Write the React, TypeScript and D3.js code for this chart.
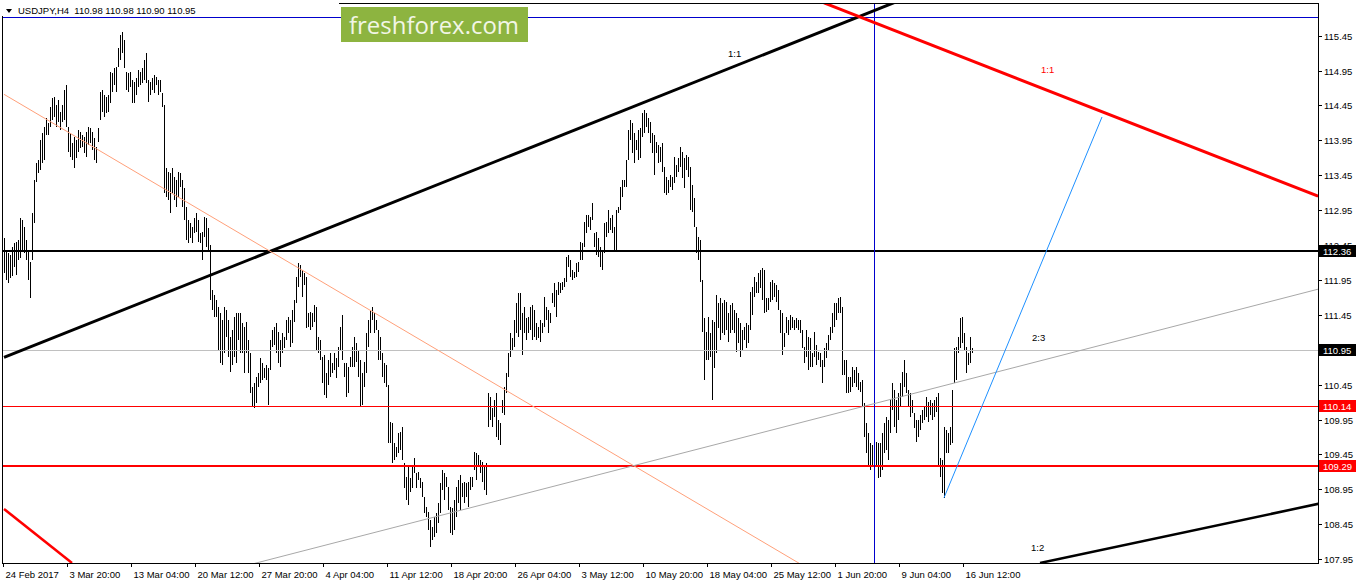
import React from "react";
import * as d3 from "d3";

// USDJPY H4 bars, 24 Feb 2017 .. 16 Jun 2017 (one entry per bar)
const highs = [
  112.55,112.38,112.34,112.31,112.42,112.48,112.49,112.52,112.84,112.81,
  112.71,112.52,112.38,112.21,112.91,113.38,113.63,113.67,113.95,114.06,
  114.14,114.27,114.20,114.43,114.56,114.57,114.46,114.53,114.36,114.46,
  114.67,114.74,114.14,114.06,113.91,114.00,113.95,114.10,114.07,114.03,
  114.00,114.07,114.14,114.13,114.07,113.98,113.85,114.13,114.64,114.67,
  114.60,114.57,114.60,114.93,114.92,114.99,115.00,115.27,115.46,115.50,
  115.39,114.93,114.92,114.93,114.81,114.79,114.84,114.96,114.93,114.99,
  115.10,115.20,114.81,114.79,114.84,114.89,114.86,114.81,114.81,114.63,
  114.46,113.55,113.50,113.48,113.55,113.43,113.38,113.50,113.48,113.38,
  113.27,112.99,112.81,112.77,112.71,112.84,112.91,112.81,112.62,112.64,
  112.85,112.84,112.69,112.45,111.81,111.74,111.66,111.56,111.48,111.38,
  111.56,111.52,111.38,111.13,111.23,111.42,111.48,111.48,111.48,111.33,
  111.28,111.35,111.09,110.90,110.42,110.47,110.56,110.62,110.83,110.76,
  110.69,110.73,110.69,111.09,111.23,111.28,111.33,111.20,111.09,111.19,
  111.13,111.38,111.42,111.38,111.52,111.66,111.99,112.19,112.16,112.09,
  112.05,111.99,111.48,111.49,111.48,111.59,111.56,111.13,111.09,110.85,
  110.87,110.62,110.80,110.90,110.76,110.90,110.83,110.99,111.28,111.45,
  110.76,110.76,110.70,110.85,110.99,111.13,111.05,110.95,110.80,110.62,
  110.77,111.19,111.38,111.52,111.56,111.48,111.38,111.23,111.13,110.90,
  110.76,110.73,110.45,109.91,109.90,109.61,109.56,109.76,109.77,109.84,
  109.33,109.13,109.27,109.11,109.30,109.40,109.18,109.20,109.11,109.05,
  108.84,108.70,108.63,108.51,108.41,108.55,108.61,108.75,109.04,109.23,
  109.18,109.13,108.98,108.70,108.68,108.80,108.98,109.08,109.16,109.04,
  109.05,109.04,109.05,109.13,109.13,109.49,109.47,109.44,109.37,109.34,
  109.27,109.33,110.33,110.27,110.12,110.23,110.33,109.94,109.90,110.23,
  110.42,110.62,110.90,111.19,111.12,111.38,111.62,111.76,111.76,111.48,
  111.56,111.41,111.42,111.56,111.59,111.52,111.33,111.28,111.38,111.33,
  111.71,111.56,111.52,111.48,111.76,111.91,111.81,111.92,111.91,111.92,
  111.98,112.28,112.31,112.24,112.09,112.06,112.19,112.21,112.49,112.48,
  112.78,112.88,112.88,112.85,113.05,112.62,112.64,112.55,112.42,112.38,
  112.77,112.78,112.95,112.84,112.88,112.71,112.95,112.99,113.28,113.38,
  113.38,113.67,114.10,114.24,114.20,114.06,113.95,114.10,114.13,114.34,
  114.39,114.34,114.27,114.21,114.06,114.03,113.93,113.88,113.85,113.91,
  113.57,113.43,113.38,113.45,113.43,113.71,113.60,113.70,113.85,113.78,
  113.70,113.74,113.71,113.57,113.31,113.12,112.71,112.57,112.52,111.95,
  111.41,111.20,111.42,111.19,111.38,111.35,111.74,111.62,111.69,111.62,
  111.66,111.63,111.48,111.59,111.62,111.52,111.48,111.41,111.33,111.23,
  111.28,111.33,111.30,111.78,111.85,111.99,111.92,112.05,112.09,112.12,
  112.09,111.69,111.69,111.92,111.95,111.91,111.88,111.81,111.52,111.48,
  111.19,111.42,111.38,111.45,111.42,111.38,111.41,111.38,111.38,111.23,
  110.99,111.23,111.13,111.12,110.90,111.20,111.02,110.92,110.90,110.80,
  110.98,111.05,111.16,111.28,111.48,111.62,111.62,111.69,111.71,111.56,
  110.80,110.80,110.56,110.56,110.70,110.66,110.70,110.62,110.49,110.52,
  110.19,109.90,109.76,109.61,109.59,109.56,109.63,109.61,109.61,109.76,
  109.90,109.99,109.94,110.23,110.47,110.37,110.23,110.33,110.47,110.63,
  110.80,110.62,110.37,110.33,110.23,110.04,109.94,109.94,110.01,110.09,
  110.13,110.27,110.20,110.23,110.19,110.23,110.27,110.33,109.40,109.37,
  109.84,109.80,109.76,109.84,110.37,110.98,110.99,111.13,111.41,111.42,
  111.19,110.99,110.90,111.13,110.98,
];

const lows = [
  112.05,111.95,111.91,111.98,112.00,112.14,112.02,112.24,112.27,112.38,
  112.34,112.24,111.95,111.69,112.24,112.77,113.35,113.48,113.53,113.63,
  113.67,114.03,114.03,114.14,114.24,114.28,114.14,114.21,114.10,114.21,
  114.24,114.14,113.78,113.71,113.67,113.55,113.70,113.78,113.84,113.85,
  113.77,113.71,113.88,113.91,113.81,113.67,113.63,113.93,114.24,114.36,
  114.28,114.34,114.36,114.49,114.64,114.74,114.64,115.00,115.10,115.20,
  114.99,114.67,114.64,114.71,114.49,114.49,114.60,114.71,114.74,114.77,
  114.81,114.77,114.50,114.60,114.67,114.63,114.74,114.60,114.64,114.43,
  113.20,113.14,113.10,112.91,113.20,113.10,112.99,113.14,113.28,112.99,
  112.81,112.52,112.48,112.55,112.48,112.62,112.64,112.49,112.48,112.24,
  112.57,112.42,112.38,111.66,111.52,111.42,111.42,110.95,110.76,110.73,
  110.90,111.13,110.85,110.63,110.73,110.85,110.76,111.09,110.90,110.90,
  110.62,110.90,110.62,110.33,110.13,110.12,110.19,110.42,110.47,110.52,
  110.55,110.52,110.16,110.66,110.99,111.02,110.90,110.76,110.70,110.90,
  110.98,111.09,111.19,110.99,111.05,111.35,111.62,111.85,111.99,111.70,
  111.88,111.26,111.28,111.23,111.28,111.35,110.95,110.90,110.80,110.47,
  110.30,110.26,110.45,110.56,110.62,110.66,110.55,110.70,110.95,110.80,
  110.56,110.27,110.33,110.70,110.70,110.70,110.77,110.56,110.13,110.16,
  110.42,110.62,110.99,111.19,111.38,111.19,111.23,110.80,110.80,110.56,
  110.47,110.42,109.61,109.61,109.33,109.37,109.41,109.47,109.51,109.37,
  108.97,108.80,108.73,108.91,108.97,109.18,108.97,109.08,108.97,108.84,
  108.61,108.55,108.37,108.12,108.22,108.27,108.32,108.47,108.61,108.94,
  108.80,108.98,108.65,108.32,108.30,108.37,108.55,108.75,108.65,108.84,
  108.75,108.84,108.70,108.94,108.98,109.23,109.08,109.27,109.18,109.05,
  108.94,108.87,109.84,109.94,109.84,109.99,109.70,109.66,109.59,110.04,
  110.01,110.33,110.56,110.85,110.95,110.99,111.19,111.13,111.23,110.87,
  111.19,111.09,111.19,111.23,111.09,111.13,111.09,111.12,111.06,111.19,
  111.28,111.38,111.19,111.33,111.62,111.56,111.42,111.74,111.76,111.81,
  111.85,111.92,112.14,111.99,111.95,111.98,111.99,112.06,112.24,112.24,
  112.42,112.62,112.71,112.67,112.81,112.42,112.31,112.28,112.14,112.09,
  112.34,112.57,112.62,112.67,112.62,112.38,112.38,112.91,112.95,113.14,
  113.28,113.28,113.67,113.95,113.77,113.63,113.81,113.67,113.70,114.00,
  114.06,114.14,114.06,113.91,113.77,113.45,113.77,113.63,113.64,113.50,
  113.20,113.17,113.20,113.28,113.24,113.34,113.43,113.50,113.57,113.41,
  113.27,113.53,113.43,112.95,112.92,112.71,112.34,112.24,111.92,111.21,
  110.52,110.80,110.80,110.85,110.23,110.69,110.90,111.26,111.09,111.19,
  111.16,111.23,111.06,111.19,111.23,111.19,110.92,111.05,110.85,110.95,
  111.09,110.98,111.05,111.23,111.45,111.71,111.76,111.76,111.84,111.66,
  111.48,111.49,111.52,111.63,111.66,111.71,111.63,111.52,111.19,110.87,
  110.99,111.19,111.16,111.23,111.26,111.23,111.26,111.23,111.19,110.98,
  110.76,110.85,110.66,110.70,110.70,110.85,110.73,110.80,110.70,110.47,
  110.70,110.83,110.95,111.09,111.19,111.28,111.38,111.48,111.48,110.59,
  110.59,110.33,110.33,110.35,110.42,110.47,110.42,110.37,110.35,110.13,
  109.70,109.47,109.28,109.23,109.28,109.23,109.28,109.11,109.13,109.23,
  109.47,109.51,109.37,109.76,110.09,109.84,109.76,109.94,110.13,110.27,
  110.42,110.33,110.13,109.99,110.04,109.83,109.63,109.70,109.80,109.90,
  109.94,109.99,109.91,110.01,109.94,109.99,110.06,109.27,109.13,108.90,
  108.83,109.47,109.47,109.59,109.61,110.47,110.52,110.90,110.98,111.05,
  110.95,110.62,110.73,110.76,110.90,
];

const xTickLabels = [
  "24 Feb 2017", "3 Mar 20:00", "13 Mar 04:00", "20 Mar 12:00", "27 Mar 20:00",
  "4 Apr 04:00", "11 Apr 12:00", "18 Apr 20:00", "26 Apr 04:00", "3 May 12:00",
  "10 May 20:00", "18 May 04:00", "25 May 12:00", "1 Jun 20:00", "9 Jun 04:00",
  "16 Jun 12:00",
];
const barsPerLabel = 32;

const yTicks = [115.45, 114.95, 114.45, 113.95, 113.45, 112.95, 112.45, 111.95,
  111.45, 110.95, 110.45, 109.95, 109.45, 108.95, 108.45, 107.95];

// horizontal levels [price, colour, width, label box colour]
const levels: [number, string, number, string | null][] = [
  [112.36, "#000000", 2, "#000000"],
  [110.95, "#c0c0c0", 1, "#000000"],
  [110.14, "#ff0000", 1, "#ff0000"],
  [109.29, "#ff0000", 2, "#ff0000"],
  [115.72, "#0000cd", 1, null],
];

// trend lines: [[bar, price], [bar, price]], colour, width
const trendLines: [[number, number][], string, number][] = [
  [[[0, 110.84], [450, 115.98]], "#000000", 3],
  [[[410, 115.92], [657, 113.15]], "#ff0000", 3],
  [[[0, 108.67], [34, 107.895]], "#ff0000", 2.5],
  [[[0, 114.61], [400, 107.85]], "#ffa07a", 1],
  [[[120, 107.85], [660, 111.84]], "#a8a8a8", 1],
  [[[470, 108.83], [549, 114.285]], "#1e90ff", 1],
  [[[518, 107.895], [660, 108.76]], "#000000", 2.5],
];

const vLineBar = 435;

// ratio labels [bar, price, text, colour]
const ratioLabels: [number, number, string, string][] = [
  [362, 115.14, "1:1", "#000000"],
  [518.5, 114.91, "1:1", "#ff0000"],
  [514, 111.08, "2:3", "#000000"],
  [513.5, 108.07, "1:2", "#000000"],
];

const W = 1358;
const H = 584;
const plotLeft = 3;
const plotRight = 1318;
const plotTop = 4;
const plotBottom = 563;
const font = "'Liberation Sans', Arial, sans-serif";

export default function App() {
  const x = d3.scaleLinear().domain([0, 657]).range([4, plotRight]);
  const y = d3.scaleLinear().domain([115.904, 107.895]).range([plotTop, plotBottom]);

  const barPath = highs
    .map((h, i) => {
      const bx = Math.round(x(i)) + 0.5;
      const y1 = Math.round(y(h));
      let y2 = Math.round(y(lows[i]));
      if (y2 <= y1) y2 = y1 + 1;
      return `M${bx},${y1}V${y2}`;
    })
    .join("");

  const line = d3
    .line<[number, number]>()
    .x((d) => x(d[0]))
    .y((d) => y(d[1]));

  const vx = Math.round(x(vLineBar)) + 0.5;

  return (
    <div style={{ position: "absolute", left: 0, top: 0 }}>
      <svg width={W} height={H} style={{ display: "block", background: "#fff" }}>
        <defs>
          <clipPath id="plot">
            <rect x={plotLeft} y={plotTop} width={plotRight - plotLeft} height={plotBottom - plotTop} />
          </clipPath>
        </defs>
        <rect x={0} y={0} width={W} height={H} fill="#fff" />

        <g clipPath="url(#plot)">
          <path d={barPath} stroke="#000" strokeWidth={1} fill="none" shapeRendering="crispEdges" />

          {levels.map(([p, c, w], i) => {
            const ly = w === 2 ? Math.round(y(p)) : Math.round(y(p)) + 0.5;
            return (
              <line key={"lv" + i} x1={plotLeft} x2={plotRight} y1={ly} y2={ly}
                stroke={c} strokeWidth={w} shapeRendering="crispEdges" />
            );
          })}

          <line x1={vx} x2={vx} y1={plotTop} y2={plotBottom} stroke="#0000cd" strokeWidth={1}
            shapeRendering="crispEdges" />

          {trendLines.map(([pts, c, w], i) => (
            <path key={"tl" + i} d={line(pts) || ""} stroke={c} strokeWidth={w} fill="none" />
          ))}

          {ratioLabels.map(([b, p, t, c], i) => (
            <text key={"rl" + i} x={x(b)} y={y(p)} fontFamily={font} fontSize={9.5} fill={c}>
              {t}
            </text>
          ))}
        </g>

        {/* frame */}
        <path
          d={`M${plotLeft - 0.5},${plotTop - 0.5}H${plotRight + 0.5}V${plotBottom + 0.5}H${plotLeft - 0.5}Z`}
          fill="none" stroke="#000" strokeWidth={1} shapeRendering="crispEdges"
        />

        {/* title */}
        <rect x={0} y={0} width={339} height={16} fill="#fff" />
        <path d="M6,9 L12,9 L9,13 Z" fill="#000" />
        <text x={18} y={14} fontFamily={font} fontSize={9.5} fill="#000" style={{ whiteSpace: "pre" }}>
          {"USDJPY,H4  110.98 110.98 110.90 110.95"}
        </text>

        {/* logo */}
        <rect x={341} y={7} width={187} height={35} fill="#8db440" />
        <text x={349} y={34} fontFamily="'Open Sans', 'Noto Sans', sans-serif" fontSize={24}
          fill="#f2f6e6" textLength={170} lengthAdjust="spacingAndGlyphs">
          freshforex.com
        </text>

        {/* right axis */}
        {yTicks.map((t) => {
          const ty = Math.round(y(t)) + 0.5;
          return (
            <g key={"yt" + t}>
              <line x1={plotRight} x2={plotRight + 4} y1={ty} y2={ty} stroke="#000" shapeRendering="crispEdges" />
              <text x={1324} y={ty + 3.5} fontFamily={font} fontSize={9.5} fill="#000">
                {t.toFixed(2)}
              </text>
            </g>
          );
        })}
        {levels
          .filter((l) => l[3])
          .map(([p, , , bg]) => {
            const ly = y(p);
            return (
              <g key={"lb" + p}>
                <rect x={plotRight + 1} y={Math.round(ly) - 6} width={37} height={12} fill={bg as string} />
                <text x={1323} y={Math.round(ly) + 3.5} fontFamily={font} fontSize={9.5} fill="#fff">
                  {p.toFixed(2)}
                </text>
              </g>
            );
          })}

        {/* bottom axis */}
        {xTickLabels.map((lab, k) => {
          const tx = Math.round(x(k * barsPerLabel)) - 0.5;
          return (
            <g key={"xt" + k}>
              <line x1={tx} x2={tx} y1={plotBottom} y2={plotBottom + 4} stroke="#000" shapeRendering="crispEdges" />
              <text x={tx + 2} y={578} fontFamily={font} fontSize={9.5} fill="#000">
                {lab}
              </text>
            </g>
          );
        })}
      </svg>
    </div>
  );
}
